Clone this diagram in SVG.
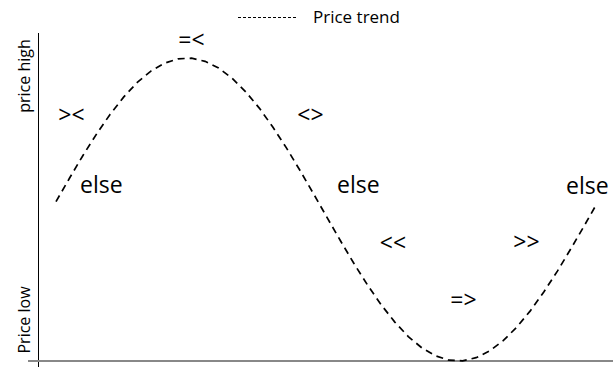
<svg xmlns="http://www.w3.org/2000/svg" width="613" height="367" viewBox="0 0 613 367">
<style>
text{font-family:"Open Sans","Liberation Sans",sans-serif;fill:#000}
.lbl{font-size:23px}
.sym{font-size:23px;text-anchor:middle}
.axl{font-size:16px;text-anchor:middle}
.trend{fill:none;stroke:#000;stroke-width:1.7;stroke-dasharray:7 5}
</style>
<rect width="613" height="367" fill="#fff"/>
<g id="legend">
<line x1="238" y1="17.5" x2="297" y2="17.5" stroke="#000" stroke-width="1" stroke-dasharray="3 2"/>
<text x="313" y="23" style="font-size:17px">Price trend</text>
</g>
<g id="axes">
<line x1="38.5" y1="33" x2="38.5" y2="367" stroke="#000" stroke-width="1"/>
<line x1="28" y1="361" x2="613" y2="361" stroke="#888" stroke-width="2"/>
<text class="axl" transform="translate(30,76) rotate(-90)">price high</text>
<text class="axl" transform="translate(30,320) rotate(-90)">Price low</text>
</g>
<g id="connectors">
<path class="trend" d="M56,201.6 L69.6,178 L83.1,155.2 L96.7,133.8 L110.2,114.2 L123.8,96.9 L137.3,82.4 L150.9,71.1 L164.4,63.2 L178,58.8 L191.5,58.2 L205.1,61.3 L218.6,68.1 L232.2,78.3 L245.7,91.8 L259.3,108.1 L272.8,127 L286.4,147.9 L299.9,170.3 L313.5,193.7 L327,217.4 L340.6,241 L354.1,263.8 L367.7,285.3 L381.2,304.8 L394.8,322.1 L408.3,336.6 L421.9,347.9 L435.4,355.8 L449,360.2 L462.5,360.8 L476.1,357.7 L489.6,350.9 L503.2,340.7 L516.7,327.2 L530.3,310.9 L543.8,292 L557.4,271.1 L570.9,248.7 L584.5,225.3 L596.5,204.2"/>
</g>
<g id="label-left"><text class="lbl" x="80" y="193">else</text></g>
<g id="label-mid"><text class="lbl" x="337" y="193">else</text></g>
<g id="label-right"><text class="lbl" x="566" y="194">else</text></g>
<g id="sym-1"><text class="sym" x="71.5" y="123">&gt;&lt;</text></g>
<g id="sym-2"><text class="sym" x="191.5" y="48">=&lt;</text></g>
<g id="sym-3"><text class="sym" x="310.5" y="123">&lt;&gt;</text></g>
<g id="sym-4"><text class="sym" x="393" y="251">&lt;&lt;</text></g>
<g id="sym-5"><text class="sym" x="526.5" y="250">&gt;&gt;</text></g>
<g id="sym-6"><text class="sym" x="463.5" y="308">=&gt;</text></g>
</svg>
